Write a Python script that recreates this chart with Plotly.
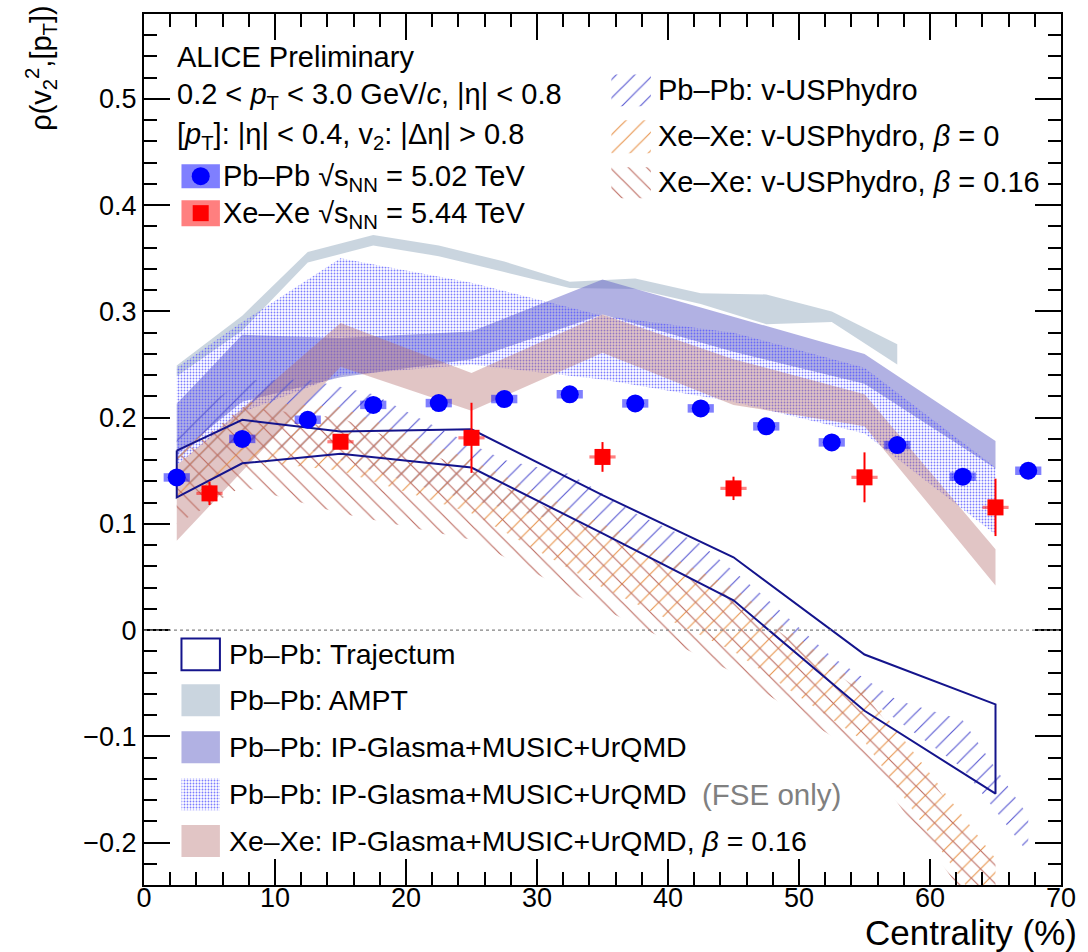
import plotly.graph_objects as go

# ---------------- measured data ----------------
pbpb_cent = [2.5, 7.5, 12.5, 17.5, 22.5, 27.5, 32.5, 37.5, 42.5, 47.5, 52.5, 57.5, 62.5, 67.5]
pbpb_rho = [0.1437, 0.180, 0.198, 0.212, 0.2137, 0.2175, 0.222, 0.2134, 0.2087, 0.1918, 0.1767, 0.1742, 0.1444, 0.150]
pbpb_stat = [0.003, 0.003, 0.003, 0.003, 0.003, 0.003, 0.003, 0.003, 0.003, 0.003, 0.003, 0.003, 0.004, 0.006]
pbpb_sys = [0.004] * 14

xexe_cent = [5, 15, 25, 35, 45, 55, 65]
xexe_rho = [0.1287, 0.1773, 0.181, 0.163, 0.1334, 0.1438, 0.1155]
xexe_stat = [0.011, 0.007, 0.033, 0.014, 0.011, 0.0235, 0.027]
xexe_sys = [0.0015] * 7

# ---------------- model calculations ----------------
ampt_cent = [2.5, 7.5, 12.5, 17.5, 22.5, 27.5, 32.5, 37.5, 42.5, 47.5, 52.5, 57.5]
ampt_hi = [0.249, 0.296, 0.356, 0.372, 0.362, 0.347, 0.328, 0.331, 0.317, 0.316, 0.300, 0.269]
ampt_lo = [0.239, 0.282, 0.346, 0.362, 0.352, 0.337, 0.322, 0.321, 0.307, 0.288, 0.290, 0.250]

ipg_cent = [2.5, 7.5, 15, 25, 35, 45, 55, 65]
ipg_hi = [0.213, 0.278, 0.275, 0.281, 0.330, 0.295, 0.260, 0.178]
ipg_lo = [0.165, 0.215, 0.238, 0.255, 0.297, 0.262, 0.232, 0.152]

fse_cent = [2.5, 7.5, 15, 25, 35, 45, 55, 65]
fse_hi = [0.247, 0.290, 0.350, 0.327, 0.296, 0.280, 0.247, 0.153]
fse_lo = [0.155, 0.205, 0.240, 0.250, 0.236, 0.215, 0.185, 0.090]

ipgxe_cent = [2.5, 15, 25, 35, 45, 55, 65]
ipgxe_hi = [0.155, 0.289, 0.242, 0.297, 0.255, 0.222, 0.076]
ipgxe_lo = [0.084, 0.248, 0.2065, 0.261, 0.212, 0.192, 0.042]

traj_cent = [2.5, 7.5, 15, 25, 35, 45, 55, 65]
traj_hi = [0.169, 0.198, 0.187, 0.189, 0.127, 0.0685, -0.023, -0.070]
traj_lo = [0.125, 0.157, 0.166, 0.153, 0.091, 0.028, -0.076, -0.154]

vus_pb_cent = [2.5, 7.5, 12.5, 17.5, 22.5, 27.5, 32.5, 37.5, 42.5, 47.5, 52.5, 57.5, 62.5, 67.5]
vus_pb_hi = [0.19, 0.235, 0.236, 0.222, 0.19, 0.16, 0.147, 0.11, 0.081, 0.03, -0.025, -0.066, -0.085, -0.175]
vus_pb_lo = [0.13, 0.17, 0.17, 0.15, 0.13, 0.115, 0.10, 0.075, 0.045, 0.0, -0.04, -0.085, -0.13, -0.21]

vus_xe0_cent = [2.5, 7.5, 15, 25, 35, 45, 55, 65]
vus_xe0_hi = [0.165, 0.215, 0.21, 0.16, 0.10, 0.04, -0.055, -0.215]
vus_xe0_lo = [0.115, 0.16, 0.15, 0.11, 0.04, -0.02, -0.105, -0.28]

vus_xe16_cent = [2.5, 7.5, 15, 25, 35, 45, 55, 65]
vus_xe16_hi = [0.16, 0.21, 0.20, 0.15, 0.09, 0.03, -0.06, -0.22]
vus_xe16_lo = [0.10, 0.135, 0.11, 0.085, 0.02, -0.04, -0.12, -0.29]

x_ticks = [0, 10, 20, 30, 40, 50, 60, 70]

FONT = "Liberation Sans, Arial, Helvetica, sans-serif"
NAVY = "rgb(20,20,140)"


def band(cent, hi, lo):
    return list(cent) + list(cent[::-1]) + [cent[0]], list(hi) + list(lo[::-1]) + [hi[0]]


fig = go.Figure()


def add_band(cent, hi, lo, fillcolor="rgba(0,0,0,0)", line=None, pattern=None):
    x, y = band(cent, hi, lo)
    kw = dict(x=x, y=y, mode="lines", fill="toself", fillcolor=fillcolor,
              hoverinfo="skip", showlegend=False)
    if line is None:
        kw["line"] = dict(width=0, color="rgba(0,0,0,0)")
    else:
        kw["line"] = line
    if pattern is not None:
        kw["fillpattern"] = pattern
    fig.add_trace(go.Scatter(**kw))


def hatch(shape, color, size=13, solidity=0.09):
    return dict(shape=shape, fgcolor=color, bgcolor="rgba(0,0,0,0)",
                size=size, solidity=solidity, fillmode="replace")


DOTS = dict(shape=".", fgcolor="rgba(80,80,255,0.75)", bgcolor="rgba(0,0,0,0)",
            size=3, solidity=0.3, fillmode="replace")
PB_HATCH = hatch("/", "rgb(90,90,210)")
XE0_HATCH = hatch("/", "rgb(232,150,80)")
XE16_HATCH = hatch("\\", "rgb(190,110,100)")

# model bands
add_band(ampt_cent, ampt_hi, ampt_lo, fillcolor="rgba(150,172,192,0.5)")
add_band(ipg_cent, ipg_hi, ipg_lo, fillcolor="rgba(100,100,200,0.5)")
add_band(fse_cent, fse_hi, fse_lo, pattern=DOTS)
add_band(ipgxe_cent, ipgxe_hi, ipgxe_lo, fillcolor="rgba(180,110,110,0.4)")
add_band(vus_pb_cent, vus_pb_hi, vus_pb_lo, pattern=PB_HATCH)
add_band(vus_xe0_cent, vus_xe0_hi, vus_xe0_lo, pattern=XE0_HATCH)
add_band(vus_xe16_cent, vus_xe16_hi, vus_xe16_lo, pattern=XE16_HATCH)
tx, ty = band(traj_cent, traj_hi, traj_lo)
fig.add_trace(go.Scatter(x=tx, y=ty, mode="lines", line=dict(color=NAVY, width=2),
                         hoverinfo="skip", showlegend=False))

# systematic boxes of the measurements
for c, r, s in zip(pbpb_cent, pbpb_rho, pbpb_sys):
    fig.add_shape(type="rect", xref="x", yref="y", x0=c - 1.0, x1=c + 1.0, y0=r - s, y1=r + s,
                  fillcolor="rgba(0,0,255,0.5)", line_width=0, layer="above")
for c, r, s in zip(xexe_cent, xexe_rho, xexe_sys):
    fig.add_shape(type="rect", xref="x", yref="y", x0=c - 1.0, x1=c + 1.0, y0=r - s, y1=r + s,
                  fillcolor="rgba(255,0,0,0.5)", line_width=0, layer="above")

# measurements
fig.add_trace(go.Scatter(x=pbpb_cent, y=pbpb_rho, mode="markers",
                         marker=dict(symbol="circle", size=18, color="rgb(0,0,255)", line_width=0),
                         error_y=dict(type="data", array=pbpb_stat, color="rgb(0,0,255)", thickness=2, width=0),
                         hoverinfo="skip", showlegend=False))
fig.add_trace(go.Scatter(x=xexe_cent, y=xexe_rho, mode="markers",
                         marker=dict(symbol="square", size=16, color="rgb(255,0,0)", line_width=0),
                         error_y=dict(type="data", array=xexe_stat, color="rgb(255,0,0)", thickness=2, width=0),
                         hoverinfo="skip", showlegend=False))

# zero reference line
fig.add_shape(type="line", xref="x", yref="y", x0=0, x1=70, y0=0, y1=0,
              line=dict(color="rgb(130,130,130)", width=1.2, dash="dot"), layer="above")

# ---------------- legend (drawn in plot-fraction coordinates) ----------------
L, T, W, H = 144.0, 12.5, 930.0, 872.5


def fx(px):
    return (px - L) / W


def fy(py):
    return (T + H - py) / H


def swatch_box(x0, x1, y0, y1, **kw):
    fig.add_shape(type="rect", xref="x2", yref="y2", x0=fx(x0), x1=fx(x1), y0=fy(y1), y1=fy(y0), **kw)


def swatch_pattern(x0, x1, y0, y1, pattern, fillcolor="rgba(0,0,0,0)"):
    xs = [fx(x0), fx(x1), fx(x1), fx(x0), fx(x0)]
    ys = [fy(y0), fy(y0), fy(y1), fy(y1), fy(y0)]
    fig.add_trace(go.Scatter(x=xs, y=ys, xaxis="x2", yaxis="y2", mode="lines", fill="toself",
                             fillcolor=fillcolor, line=dict(width=0, color="rgba(0,0,0,0)"),
                             fillpattern=pattern, hoverinfo="skip", showlegend=False))


def text(px, py, s, size=29, color="black", anchor="left"):
    fig.add_annotation(x=fx(px), y=fy(py), xref="paper", yref="paper", text=s, showarrow=False,
                       xanchor=anchor, yanchor="middle", font=dict(family=FONT, size=size, color=color))


# top-left block
text(175, 56, "ALICE Preliminary")
text(175, 95, "0.2 &lt; <i>p</i><sub>T</sub> &lt; 3.0 GeV/<i>c</i>, |η| &lt; 0.8")
text(175, 135, "[<i>p</i><sub>T</sub>]: |η| &lt; 0.4, v<sub>2</sub>: |Δη| &gt; 0.8")
swatch_box(182, 221, 163, 187, fillcolor="rgba(0,0,255,0.5)", line_width=0)
swatch_box(182, 221, 199, 225, fillcolor="rgba(255,0,0,0.5)", line_width=0)
fig.add_trace(go.Scatter(x=[fx(201.5)], y=[fy(175)], xaxis="x2", yaxis="y2", mode="markers",
                         marker=dict(symbol="circle", size=18, color="rgb(0,0,255)"),
                         hoverinfo="skip", showlegend=False))
fig.add_trace(go.Scatter(x=[fx(201.5)], y=[fy(212)], xaxis="x2", yaxis="y2", mode="markers",
                         marker=dict(symbol="square", size=16, color="rgb(255,0,0)"),
                         hoverinfo="skip", showlegend=False))
text(222, 177, "Pb–Pb √s<sub>NN</sub> = 5.02 TeV")
text(222, 214, "Xe–Xe √s<sub>NN</sub> = 5.44 TeV")

# top-right block
swatch_pattern(618, 658, 73, 105, PB_HATCH)
swatch_pattern(618, 658, 119, 152, XE0_HATCH)
swatch_pattern(618, 658, 166, 197, XE16_HATCH)
text(663, 89, "Pb–Pb: v-USPhydro")
text(663, 135, "Xe–Xe: v-USPhydro, <i>β</i> = 0")
text(663, 181, "Xe–Xe: v-USPhydro, <i>β</i> = 0.16")

# bottom block
rows = [654, 700, 747, 794, 841]
swatch_box(182, 221, rows[0] - 16, rows[0] + 16, fillcolor="rgba(0,0,0,0)", line=dict(color=NAVY, width=2))
swatch_box(182, 221, rows[1] - 16, rows[1] + 16, fillcolor="rgba(150,172,192,0.5)", line_width=0)
swatch_box(182, 221, rows[2] - 16, rows[2] + 16, fillcolor="rgba(100,100,200,0.5)", line_width=0)
swatch_pattern(182, 221, rows[3] - 16, rows[3] + 16, DOTS)
swatch_box(182, 221, rows[4] - 16, rows[4] + 16, fillcolor="rgba(180,110,110,0.4)", line_width=0)
text(228, rows[0], "Pb–Pb: Trajectum", size=28.5)
text(228, rows[1], "Pb–Pb: AMPT", size=28.5)
text(228, rows[2], "Pb–Pb: IP-Glasma+MUSIC+UrQMD", size=28.5)
text(228, rows[3], "Pb–Pb: IP-Glasma+MUSIC+UrQMD", size=28.5)
text(708, rows[3], "(FSE only)", size=29.5, color="rgb(128,128,128)")
text(228, rows[4], "Xe–Xe: IP-Glasma+MUSIC+UrQMD, <i>β</i> = 0.16", size=28.5)

# axis titles
fig.add_annotation(x=fx(1092), y=fy(933), xref="paper", yref="paper", text="Centrality (%)",
                   showarrow=False, xanchor="right", yanchor="middle",
                   font=dict(family=FONT, size=35, color="black"))
fig.add_annotation(x=fx(40), y=fy(66), xref="paper", yref="paper",
                   text="ρ(v<sub>2</sub><sup>2</sup>,[p<sub>T</sub>])", textangle=-90,
                   showarrow=False, xanchor="center", yanchor="middle",
                   font=dict(family=FONT, size=29, color="black"))

axis_common = dict(ticks="inside", ticklen=26, tickwidth=1.5, tickcolor="black",
                   showline=True, linecolor="black", linewidth=2, mirror="allticks",
                   showgrid=False, zeroline=False, ticklabeloverflow="allow",
                   tickfont=dict(family=FONT, size=27, color="black"))

fig.update_layout(
    width=1088, height=952,
    margin=dict(l=144, r=14, t=12.5, b=67),
    paper_bgcolor="white", plot_bgcolor="white",
    showlegend=False,
    xaxis=dict(range=[0, 70], tickmode="array", tickvals=x_ticks,
               ticktext=[str(v) for v in x_ticks], ticklabelstandoff=-12,
               minor=dict(dtick=2, ticklen=13, ticks="inside", tickcolor="black", tickwidth=1.5),
               **axis_common),
    yaxis=dict(range=[-0.24, 0.58], tick0=0, dtick=0.1,
               minor=dict(dtick=0.02, ticklen=13, ticks="inside", tickcolor="black", tickwidth=1.5),
               **axis_common),
    xaxis2=dict(overlaying="x", range=[0, 1], visible=False, fixedrange=True),
    yaxis2=dict(overlaying="y", range=[0, 1], visible=False, fixedrange=True),
)

fig.write_html("out.html")
